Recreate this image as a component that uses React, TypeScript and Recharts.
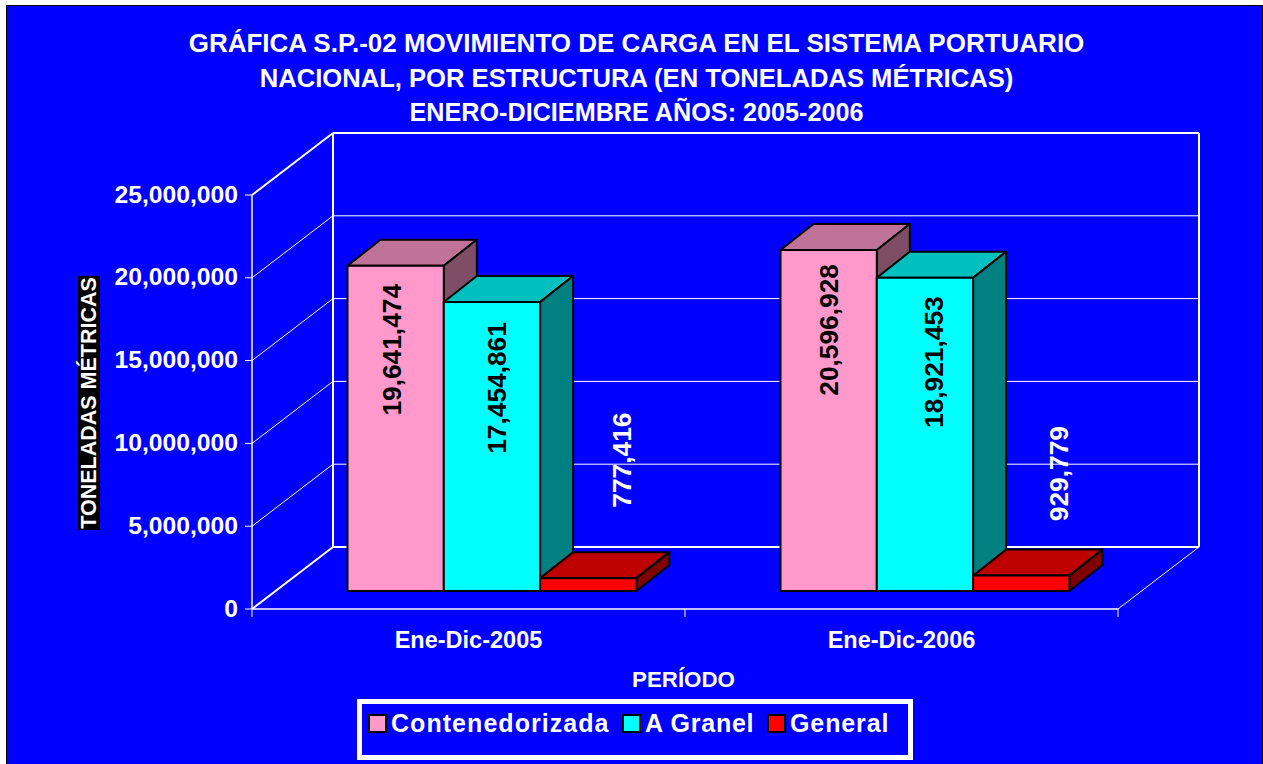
import { BarChart, Bar, XAxis, YAxis, CartesianGrid, Legend, LabelList } from 'recharts';

const periods = ['Ene-Dic-2005', 'Ene-Dic-2006'];
const contenedorizada = [19641474, 20596928];
const aGranel = [17454861, 18921453];
const general = [777416, 929779];
const yTicks = [0, 5000000, 10000000, 15000000, 20000000, 25000000];
const titleLines = [
  'GRÁFICA S.P.-02 MOVIMIENTO DE CARGA EN EL SISTEMA PORTUARIO',
  'NACIONAL, POR ESTRUCTURA (EN TONELADAS MÉTRICAS)',
  'ENERO-DICIEMBRE AÑOS: 2005-2006',
];

const data = periods.map((period, i) => ({
  period,
  contenedorizada: contenedorizada[i],
  aGranel: aGranel[i],
  general: general[i],
}));

const FONT = '"Liberation Sans", Arial, sans-serif';
const BLUE = '#0000ff';

// plot area is the plane the bars stand on, the walls are offset from it
const PLOT_LEFT = 275.5;
const PLOT_RIGHT = 1141.5;
const PLOT_TOP = 177;
const PLOT_BOTTOM = 591;
const FRONT_DX = -23.5;
const FRONT_DY = 18;
const BACK_DX = 57.5;
const BACK_DY = -44;
const BAR_DX = 33;
const BAR_DY = -26;
const LEGEND_HEIGHT = 61;
const XAXIS_HEIGHT = 100;

const SHADES: Record<string, { top: string; side: string }> = {
  '#ff99cc': { top: '#bf7399', side: '#804d66' },
  '#00ffff': { top: '#00bfbf', side: '#008080' },
  '#ff0000': { top: '#bf0000', side: '#800000' },
};

// [dx, dy] from the top middle of the bar, per period
const PINK_LABELS = [[-3.5, 84], [0, 80]];
const CYAN_LABELS = [[5, 86], [9, 84.5]];
const RED_LABELS = [[34, -118], [37.5, -102]];

// title lines are not quite the same size in the original
const TITLE_SIZES = [26, 25.6, 25.2];

// legend item placement
const LEGEND_LEFTS = [6, 260, 405];
const LEGEND_SPACING = [1.05, 0.75, 0.9];

function Bar3D({ x, y, width, height, fill }: any) {
  const shade = SHADES[fill];
  const r = x + width;
  const b = y + height;
  return (
    <g stroke="#000" strokeWidth={2} strokeLinejoin="round">
      <polygon points={`${x},${y} ${x + BAR_DX},${y + BAR_DY} ${r + BAR_DX},${y + BAR_DY} ${r},${y}`} fill={shade.top} />
      <polygon points={`${r},${y} ${r + BAR_DX},${y + BAR_DY} ${r + BAR_DX},${b + BAR_DY} ${r},${b}`} fill={shade.side} />
      <rect x={x} y={y} width={width} height={height} fill={fill} />
    </g>
  );
}

function makeLabel(offsets: number[][], color: string) {
  return function BarLabel({ x, y, width, value, index }: any) {
    const cx = x + width / 2 + offsets[index][0];
    const cy = y + offsets[index][1];
    return (
      <text
        x={cx}
        y={cy}
        transform={`rotate(-90 ${cx} ${cy})`}
        textAnchor="middle"
        dominantBaseline="central"
        fill={color}
        fontFamily={FONT}
        fontWeight="bold"
        fontSize={26.3}
      >
        {Number(value).toLocaleString('en-US')}
      </text>
    );
  };
}

function WallLine({ x1, y1, x2 }: any) {
  const isTop = Math.abs(y1 - PLOT_TOP) < 1;
  const isBottom = Math.abs(y1 - PLOT_BOTTOM) < 1;
  const heavy = isTop || isBottom;
  const fx = x1 + FRONT_DX;
  const bx = x1 + BACK_DX;
  const brx = x2 + BACK_DX;
  const by = y1 + BACK_DY;
  return (
    <g stroke="#fff" fill="none">
      <path d={`M${fx},${y1 + FRONT_DY} L${bx},${by}`} strokeWidth={heavy ? 2 : 1} />
      <path d={`M${bx},${by} L${brx},${by}`} strokeWidth={heavy ? 2 : 1} />
      {isTop && (
        <>
          <path d={`M${fx},${y1 + FRONT_DY} L${fx},${PLOT_BOTTOM + FRONT_DY}`} strokeWidth={1.5} />
          <path d={`M${bx},${by} L${bx},${PLOT_BOTTOM + BACK_DY}`} strokeWidth={2} />
          <path d={`M${brx},${by} L${brx},${PLOT_BOTTOM + BACK_DY}`} strokeWidth={2} />
        </>
      )}
      {isBottom && (
        <>
          <path d={`M${fx},${y1 + FRONT_DY} L${x2 + FRONT_DX},${y1 + FRONT_DY}`} strokeWidth={1.5} />
          <path d={`M${x2 + FRONT_DX},${y1 + FRONT_DY} L${brx},${by}`} strokeWidth={1} />
          {[0, 0.5, 1].map((f) => {
            const tx = fx + (x2 - x1) * f;
            return <path key={f} d={`M${tx},${y1 + FRONT_DY} L${tx},${y1 + FRONT_DY + 8}`} strokeWidth={1} />;
          })}
        </>
      )}
    </g>
  );
}

function YTick({ y, payload }: any) {
  const fx = PLOT_LEFT + FRONT_DX;
  const fy = y + FRONT_DY;
  return (
    <g>
      <path d={`M${fx - 7},${fy} L${fx},${fy}`} stroke="#fff" strokeWidth={1} />
      <text x={fx - 14} y={fy - 1} textAnchor="end" dominantBaseline="central" fill="#fff" fontFamily={FONT} fontWeight="bold" fontSize={24.7}>
        {Number(payload.value).toLocaleString('en-US')}
      </text>
    </g>
  );
}

function XTick({ x, payload }: any) {
  return (
    <text x={x + FRONT_DX} y={640} textAnchor="middle" dominantBaseline="central" fill="#fff" fontFamily={FONT} fontWeight="bold" fontSize={23.5}>
      {payload.value}
    </text>
  );
}

function YTitle() {
  return (
    <g>
      <rect x={78} y={276} width={22} height={254} fill="#000" />
      <text
        x={89}
        y={403}
        transform="rotate(-90 89 403)"
        textAnchor="middle"
        dominantBaseline="central"
        fill="#fff"
        fontFamily={FONT}
        fontWeight="bold"
        fontSize={21.5}
      >
        TONELADAS MÉTRICAS
      </text>
    </g>
  );
}

function XTitle() {
  return (
    <text x={683.5} y={679} textAnchor="middle" dominantBaseline="central" fill="#fff" fontFamily={FONT} fontWeight="bold" fontSize={22.3}>
      PERÍODO
    </text>
  );
}

function LegendBox({ payload }: any) {
  return (
    <div style={{ position: 'relative', width: 546, height: 51, border: '5px solid #fff', fontFamily: FONT }}>
      {(payload || []).map((item: any, i: number) => (
        <div key={item.value} style={{ position: 'absolute', left: LEGEND_LEFTS[i], top: 5, display: 'flex', alignItems: 'center', height: 28 }}>
          <span style={{ width: 15, height: 15, background: item.color, border: '2px solid #000', display: 'inline-block' }} />
          <span style={{ marginLeft: 4, color: '#fff', fontWeight: 'bold', fontSize: 25, letterSpacing: LEGEND_SPACING[i], whiteSpace: 'nowrap' }}>
            {item.value}
          </span>
        </div>
      ))}
    </div>
  );
}

export default function App() {
  return (
    <div style={{ position: 'absolute', left: 0, top: 0, width: 1263, height: 764, overflow: 'hidden', background: '#fff' }}>
      <div
        style={{
          position: 'absolute',
          left: 6,
          top: 5,
          width: 1255,
          height: 759,
          background: BLUE,
          borderLeft: '1px solid #000',
          borderTop: '1px solid #000',
          borderRight: '1px solid #000',
        }}
      />
      <div
        style={{
          position: 'absolute',
          left: 0,
          top: 26,
          width: 1273,
          textAlign: 'center',
          color: '#fff',
          fontFamily: FONT,
          fontWeight: 'bold',
          lineHeight: '34.5px',
        }}
      >
        {titleLines.map((t, i) => (
          <div key={t} style={{ fontSize: TITLE_SIZES[i] }}>{t}</div>
        ))}
      </div>
      <BarChart
        width={1263}
        height={764}
        data={data}
        barSize={96.3}
        barGap={0}
        margin={{
          top: PLOT_TOP,
          right: 1263 - PLOT_RIGHT,
          bottom: 764 - PLOT_BOTTOM - XAXIS_HEIGHT - LEGEND_HEIGHT,
          left: PLOT_LEFT - 200,
        }}
        style={{ position: 'absolute', left: 0, top: 0 }}
      >
        <CartesianGrid horizontal={(p: any) => <WallLine key={p.key} {...p} />} vertical={false} />
        <XAxis dataKey="period" height={XAXIS_HEIGHT} axisLine={false} tickLine={false} tick={<XTick />} interval={0} label={<XTitle />} />
        <YAxis
          width={200}
          domain={[0, 25000000]}
          ticks={yTicks}
          axisLine={false}
          tickLine={false}
          tick={<YTick />}
          interval={0}
          label={<YTitle />}
        />
        <Legend
          content={<LegendBox />}
          itemSorter={null}
          wrapperStyle={{ position: 'absolute', left: 357, top: 699, width: 556, height: LEGEND_HEIGHT, bottom: 'auto' }}
        />
        <Bar dataKey="contenedorizada" name="Contenedorizada" fill="#ff99cc" shape={<Bar3D />} isAnimationActive={false}>
          <LabelList dataKey="contenedorizada" content={makeLabel(PINK_LABELS, '#000')} />
        </Bar>
        <Bar dataKey="aGranel" name="A Granel" fill="#00ffff" shape={<Bar3D />} isAnimationActive={false}>
          <LabelList dataKey="aGranel" content={makeLabel(CYAN_LABELS, '#000')} />
        </Bar>
        <Bar dataKey="general" name="General" fill="#ff0000" shape={<Bar3D />} isAnimationActive={false}>
          <LabelList dataKey="general" content={makeLabel(RED_LABELS, '#fff')} />
        </Bar>
      </BarChart>
    </div>
  );
}
